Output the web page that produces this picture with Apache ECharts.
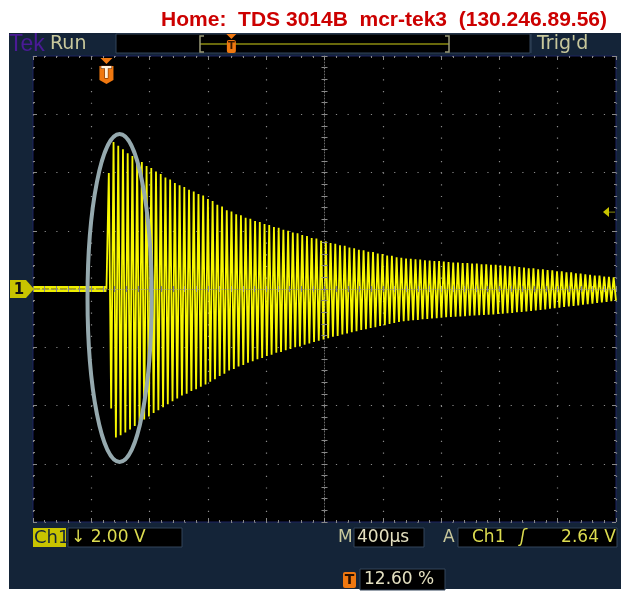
<!DOCTYPE html>
<html><head><meta charset="utf-8">
<script src="https://cdn.jsdelivr.net/npm/echarts@6/dist/echarts.min.js"></script>
<style>html,body{margin:0;padding:0;background:#fff}#c{width:628px;height:597px}</style>
</head><body><div id="c"></div>
<script>
// ---- data ----
const titleText = 'Home:  TDS 3014B  mcr-tek3  (130.246.89.56)';
const timePerDiv = 400;      // µs / div  (M 400µs)
const voltsPerDiv = 2;       // V / div   (Ch1 2.00 V)
const triggerPct = 12.6;     // trigger position in record (%)
const trigLevel = 2.64;      // V
const preTrigger = [0, 0];   // V, flat trace before trigger
// successive maxima of the ring-down (V)
const peaks = [3.98, 5.05, 4.92, 4.80, 4.66, 4.57, 4.45, 4.36, 4.22, 4.15, 4.03, 3.95, 3.83, 3.76, 3.64, 3.56, 3.50, 3.41, 3.35, 3.26,
  3.21, 3.09, 3.02, 2.89, 2.83, 2.70, 2.66, 2.57, 2.53, 2.45, 2.41, 2.33, 2.30, 2.23, 2.20, 2.13, 2.10, 2.03, 2.00, 1.94,
  1.91, 1.85, 1.82, 1.75, 1.73, 1.66, 1.64, 1.58, 1.55, 1.50, 1.48, 1.42, 1.40, 1.35, 1.33, 1.28, 1.27, 1.22, 1.20, 1.15,
  1.14, 1.09, 1.07, 1.05, 1.04, 1.02, 1.01, 0.99, 0.98, 0.96, 0.96, 0.94, 0.93, 0.91, 0.91, 0.89, 0.89, 0.87, 0.87, 0.85,
  0.85, 0.83, 0.83, 0.81, 0.80, 0.78, 0.78, 0.75, 0.74, 0.71, 0.71, 0.68, 0.68, 0.65, 0.64, 0.61, 0.61, 0.57, 0.57, 0.54,
  0.53, 0.50, 0.49, 0.46, 0.46, 0.43, 0.42, 0.40];
// successive minima of the ring-down (V)
const troughs = [-4.10, -5.10, -5.02, -4.93, -4.82, -4.70, -4.60, -4.48, -4.38, -4.26, -4.16, -4.06, -3.96, -3.85, -3.76, -3.66, -3.60, -3.50, -3.44, -3.36,
  -3.28, -3.18, -3.10, -2.99, -2.91, -2.80, -2.75, -2.66, -2.61, -2.53, -2.48, -2.41, -2.37, -2.30, -2.26, -2.19, -2.16, -2.10, -2.06, -2.00,
  -1.97, -1.91, -1.87, -1.82, -1.78, -1.73, -1.69, -1.64, -1.61, -1.56, -1.53, -1.48, -1.45, -1.41, -1.38, -1.34, -1.31, -1.27, -1.24, -1.20,
  -1.17, -1.13, -1.11, -1.09, -1.07, -1.06, -1.04, -1.03, -1.01, -1.00, -0.99, -0.97, -0.96, -0.95, -0.94, -0.93, -0.92, -0.91, -0.90, -0.89,
  -0.88, -0.87, -0.86, -0.85, -0.83, -0.82, -0.80, -0.79, -0.77, -0.75, -0.74, -0.72, -0.70, -0.68, -0.66, -0.64, -0.62, -0.60, -0.58, -0.56,
  -0.54, -0.52, -0.50, -0.48, -0.46, -0.44, -0.42, -0.40];
// highlighted region (ellipse) in data units: centre time (µs), centre V, half-width µs, half-height V
const ellipseData = [-1406, -0.31, 220, 5.63];
const statusTop = ['Tek', 'Run', "Trig'd"];
const readouts = ['Ch1', '\u2193 2.00 V', 'M', '400\u00b5s', 'A', 'Ch1', '\u0283', '2.64 V', '12.60 %'];

// ---- layout ----
const P = {left: 33, top: 56, width: 583, height: 466};
const tMin = -5 * timePerDiv, tMax = 5 * timePerDiv;
const vMin = -4 * voltsPerDiv, vMax = 4 * voltsPerDiv;
const trigTime = tMin + triggerPct / 100 * (tMax - tMin);
const ringLeft = P.left + triggerPct / 100 * P.width;

const seq = [0];
for (let i = 0; i < Math.min(peaks.length, troughs.length); i++) { seq.push(peaks[i], troughs[i]); }

const gcol = '#8a8a8a';
const baseX = (gi, pos, inside, split) => ({
  gridIndex: gi, type: 'value', min: tMin, max: tMax, interval: timePerDiv, position: pos,
  axisLine: {show: false, onZero: false},
  axisTick: {show: true, inside: inside, length: 4, lineStyle: {color: gcol}},
  minorTick: {show: true, splitNumber: 5, length: 2, lineStyle: {color: gcol}},
  axisLabel: {show: false},
  splitLine: {show: split, lineStyle: {color: gcol, width: 1.2, type: [1.2, 10.46]}}
});
const baseY = (gi, pos, inside, split) => ({
  gridIndex: gi, type: 'value', min: vMin, max: vMax, interval: voltsPerDiv, position: pos,
  axisLine: {show: false, onZero: false},
  axisTick: {show: true, inside: inside, length: 4, lineStyle: {color: gcol}},
  minorTick: {show: true, splitNumber: 5, length: 2, lineStyle: {color: gcol}},
  axisLabel: {show: false},
  splitLine: {show: split, lineStyle: {color: gcol, width: 1.2, type: [1.2, 10.45]}}
});
const centerX = (gi, inside) => ({
  gridIndex: gi, type: 'value', min: tMin, max: tMax, interval: timePerDiv, z: 5,
  axisLine: {show: inside, onZero: true, lineStyle: {color: 'rgba(150,150,150,0.7)', width: 1, type: [1, 2]}},
  axisTick: {show: true, inside: inside, length: 3, lineStyle: {color: gcol}},
  minorTick: {show: true, splitNumber: 5, length: 3, lineStyle: {color: gcol}},
  axisLabel: {show: false}, splitLine: {show: false}
});
const centerY = (gi, inside) => ({
  gridIndex: gi, type: 'value', min: vMin, max: vMax, interval: voltsPerDiv, z: 5,
  axisLine: {show: inside, onZero: true, lineStyle: {color: 'rgba(150,150,150,0.7)', width: 1, type: [1, 2]}},
  axisTick: {show: true, inside: inside, length: 3, lineStyle: {color: gcol}},
  minorTick: {show: true, splitNumber: 5, length: 3, lineStyle: {color: gcol}},
  axisLabel: {show: false}, splitLine: {show: false}
});

const chart = echarts.init(document.getElementById('c'));
const g = Object.assign({}, P);
chart.setOption({
  animation: false,
  grid: [
    Object.assign({show: true, backgroundColor: '#000', borderWidth: 1, borderColor: '#1c2260'}, g),
    Object.assign({}, g), Object.assign({}, g),
    {left: ringLeft, top: P.top, width: P.left + P.width - ringLeft, height: P.height}
  ],
  xAxis: [baseX(0, 'bottom', true, true), baseX(0, 'top', true, false), centerX(1, true), centerX(2, false),
    {gridIndex: 3, type: 'category', boundaryGap: false, show: false, data: seq.map((_, i) => i)}],
  yAxis: [baseY(0, 'left', true, true), baseY(0, 'right', true, false), centerY(1, true), centerY(2, false),
    {gridIndex: 3, type: 'value', min: vMin, max: vMax, show: false}],
  series: [
    {type: 'line', xAxisIndex: 0, yAxisIndex: 0, symbol: 'none', z: 3,
     data: [[tMin, preTrigger[0]], [trigTime, preTrigger[1]]], lineStyle: {color: '#eeee00', width: 6}},
    {type: 'line', xAxisIndex: 0, yAxisIndex: 0, symbol: 'none', z: 3,
     data: [[tMin, preTrigger[0]], [trigTime, preTrigger[1]]], lineStyle: {color: '#b0aa00', width: 2, type: [7, 2]}},
    {type: 'line', xAxisIndex: 4, yAxisIndex: 4, symbol: 'none', z: 2, data: seq,
     lineStyle: {color: '#f8f800', width: 1.8}}
  ]
});

const px = (t, v) => chart.convertToPixel({xAxisIndex: 0, yAxisIndex: 0}, [t, v]);
const zeroY = px(tMin, 0)[1];
const trigY = px(tMin, trigLevel)[1];
const trigX = px(trigTime, 0)[0];
const ec = px(ellipseData[0], ellipseData[1]);
const er = px(ellipseData[0] + ellipseData[2], ellipseData[1] + ellipseData[3]);
const khaki = '#c8c89c', yel = '#dcdc50', navy = '#142438', orange = '#f07810', whiteK = '#e4e0c0';
const font = 'DejaVu Sans, sans-serif';
const rect = (x, y, w, h, fill, stroke, z) => ({type: 'rect', z: z || 90, shape: {x: x, y: y, width: w, height: h},
  style: {fill: fill, stroke: stroke || null, lineWidth: 1}});
const recL = 200, recR = 449, recT = recL + triggerPct / 100 * (recR - recL);
const T = (x, y, s, fill, f, align) => ({type: 'text', x: x, y: y, z: 100,
  style: {text: s, fill: fill, align: align || 'left', verticalAlign: 'middle', font: f}});

chart.setOption({graphic: [
  {type: 'rect', z: -10, shape: {x: 9, y: 33, width: 612, height: 556}, style: {fill: navy}},
  T(607, 20, titleText, '#cc0000', 'bold 21px Liberation Sans, Arial, sans-serif', 'right'),
  T(9, 45, statusTop[0], '#4a1a96', '23px Liberation Sans, sans-serif'),
  T(50, 44, statusTop[1], khaki, '19px ' + font),
  rect(116, 34, 414, 19, '#000', '#33445a'),
  {type: 'line', z: 95, shape: {x1: recL, y1: 44, x2: recR, y2: 44}, style: {stroke: '#8c8c10', lineWidth: 1.5}},
  {type: 'polyline', z: 95, shape: {points: [[recL + 4, 36], [recL, 36], [recL, 52], [recL + 4, 52]]}, style: {stroke: '#9a9a78', lineWidth: 1.5, fill: null}},
  {type: 'polyline', z: 95, shape: {points: [[recR - 4, 36], [recR, 36], [recR, 52], [recR - 4, 52]]}, style: {stroke: '#9a9a78', lineWidth: 1.5, fill: null}},
  {type: 'polygon', z: 96, shape: {points: [[recT - 5, 34], [recT + 5, 34], [recT, 39]]}, style: {fill: orange}},
  {type: 'rect', z: 96, shape: {x: recT - 4.5, y: 40, width: 9, height: 13, r: 2}, style: {fill: orange}},
  T(recT, 46.5, 'T', '#3a1a00', 'bold 10px ' + font, 'center'),
  {type: 'line', z: 95, shape: {x1: 531, y1: 34, x2: 531, y2: 53}, style: {stroke: '#33445a', lineWidth: 1}},
  T(537, 44, statusTop[2], khaki, '19px ' + font),
  // trigger position marker on graticule
  {type: 'polygon', z: 96, shape: {points: [[trigX - 6, P.top + 2], [trigX + 6, P.top + 2], [trigX, P.top + 8]]}, style: {fill: orange}},
  {type: 'polygon', z: 96, shape: {points: [[trigX - 7, P.top + 10], [trigX + 7, P.top + 10], [trigX + 7, P.top + 24], [trigX, P.top + 28], [trigX - 7, P.top + 24]]}, style: {fill: orange}},
  {type: 'text', x: trigX, y: P.top + 18, z: 97, style: {text: 'T', fill: '#fff2dc', stroke: '#5a2000', lineWidth: 1, align: 'center', verticalAlign: 'middle', font: 'bold 15px ' + font}},
  // channel 1 ground marker
  {type: 'polygon', z: 96, shape: {points: [[10, zeroY - 9], [26, zeroY - 9], [34, zeroY], [26, zeroY + 9], [10, zeroY + 9]]}, style: {fill: '#c8c400'}},
  T(19, zeroY + 1, '1', '#111', 'bold 15px ' + font, 'center'),
  // trigger level marker
  {type: 'polygon', z: 96, shape: {points: [[603, trigY], [609, trigY - 5], [609, trigY + 5]]}, style: {fill: '#c8c400'}},
  {type: 'line', z: 96, shape: {x1: 609, y1: trigY, x2: 615, y2: trigY}, style: {stroke: '#8c8c10', lineWidth: 1}},
  // ellipse annotation
  {type: 'ellipse', z: 98, shape: {cx: ec[0], cy: ec[1], rx: er[0] - ec[0], ry: ec[1] - er[1]}, style: {fill: null, stroke: '#95a9ae', lineWidth: 4}},
  // bottom readouts
  rect(33, 528, 33, 19, '#c8c400'),
  T(34, 538, readouts[0], navy, '18px ' + font),
  rect(68, 528, 114, 19, '#000', '#33445a'),
  T(71, 538, readouts[1], yel, '17px ' + font),
  T(338, 538, readouts[2], khaki, '17px ' + font),
  rect(354, 528, 70, 19, '#000', '#33445a'),
  T(357, 538, readouts[3], whiteK, '17px ' + font),
  T(443, 538, readouts[4], khaki, '17px ' + font),
  rect(458, 528, 159, 19, '#000', '#33445a'),
  T(472, 538, readouts[5], yel, '17px ' + font),
  T(520, 538, readouts[6], yel, 'italic 17px ' + font),
  T(616, 538, readouts[7], yel, '17px ' + font, 'right'),
  {type: 'rect', z: 96, shape: {x: 343, y: 572, width: 13, height: 16, r: 2}, style: {fill: orange}},
  T(349.5, 580, 'T', '#2a1000', 'bold 14px ' + font, 'center'),
  rect(360, 569, 85, 21, '#000', '#33445a'),
  T(364, 580, readouts[8], whiteK, '17px ' + font)
]});
</script></body></html>
